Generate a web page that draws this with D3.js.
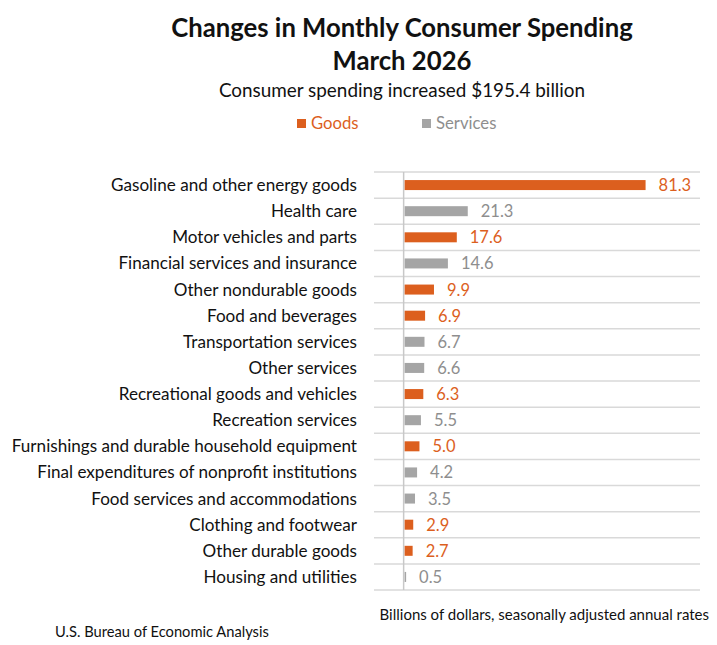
<!DOCTYPE html>
<html>
<head>
<meta charset="utf-8">
<script src="https://cdn.jsdelivr.net/npm/d3@7"></script>
<style>
  body { margin: 0; background: #fff; }
  svg { font-family: Lato, "Open Sans", sans-serif; }
</style>
</head>
<body>
<div id="chart"></div>
<script>
const categories = [
  "Gasoline and other energy goods",
  "Health care",
  "Motor vehicles and parts",
  "Financial services and insurance",
  "Other nondurable goods",
  "Food and beverages",
  "Transportation services",
  "Other services",
  "Recreational goods and vehicles",
  "Recreation services",
  "Furnishings and durable household equipment",
  "Final expenditures of nonprofit institutions",
  "Food services and accommodations",
  "Clothing and footwear",
  "Other durable goods",
  "Housing and utilities"
];
const values = [81.3, 21.3, 17.6, 14.6, 9.9, 6.9, 6.7, 6.6, 6.3, 5.5, 5.0, 4.2, 3.5, 2.9, 2.7, 0.5];
const types  = ["Goods", "Services", "Goods", "Services", "Goods", "Goods", "Services", "Services",
                "Goods", "Services", "Goods", "Services", "Services", "Goods", "Goods", "Services"];
const seriesNames = ["Goods", "Services"];

const W = 717, H = 645;
const ORANGE = "#dc5f1e";
const GRAY_BAR = "#a5a5a5";
const GRAY_TXT = "#8e8e8e";
const color = d3.scaleOrdinal().domain(seriesNames).range([ORANGE, GRAY_BAR]);
const textColor = d3.scaleOrdinal().domain(seriesNames).range([ORANGE, GRAY_TXT]);

const svg = d3.select("#chart").append("svg")
  .attr("width", W).attr("height", H);

// Titles
svg.append("text").attr("x", 402).attr("y", 37)
  .attr("text-anchor", "middle").attr("font-size", 25.7).attr("font-weight", 700)
  .attr("fill", "#111").text("Changes in Monthly Consumer Spending");
svg.append("text").attr("x", 402).attr("y", 70)
  .attr("text-anchor", "middle").attr("font-size", 25.7).attr("font-weight", 700)
  .attr("fill", "#111").text("March 2026");
svg.append("text").attr("x", 402).attr("y", 97)
  .attr("text-anchor", "middle").attr("font-size", 18.9)
  .attr("fill", "#111").text("Consumer spending increased $195.4 billion");

// Legend
const legendX = [297, 422];
const legend = svg.append("g");
seriesNames.forEach((s, i) => {
  legend.append("rect").attr("x", legendX[i]).attr("y", 119)
    .attr("width", 9).attr("height", 9).attr("fill", color(s));
  legend.append("text").attr("x", legendX[i] + 14).attr("y", 129)
    .attr("font-size", 16.7).attr("fill", textColor(s)).text(s);
});

// Scales
const x = d3.scaleLinear().domain([-10, 100]).range([374, 700]);
const y0 = 172, y1 = 590;
const step = (y1 - y0) / categories.length;

// Gridlines between rows
const bounds = d3.range(categories.length + 1).map(i => y0 + i * step);
svg.append("g").selectAll("line").data(bounds).join("line")
  .attr("x1", x(-10)).attr("x2", x(100))
  .attr("y1", d => d).attr("y2", d => d)
  .attr("stroke", "#d9d9d9").attr("stroke-width", 1.5);

// Zero axis
svg.append("line")
  .attr("x1", x(0)).attr("x2", x(0)).attr("y1", y0).attr("y2", y1)
  .attr("stroke", "#c8c8c8").attr("stroke-width", 1.5);

// Bars
const data = categories.map((c, i) => ({ cat: c, value: values[i], type: types[i] }));
const bandY = d => y0 + categories.indexOf(d.cat) * step + step / 2;
const barH = 10;

svg.append("g").selectAll("rect").data(data).join("rect")
  .attr("x", x(0) + 1)
  .attr("y", d => bandY(d) - barH / 2)
  .attr("width", d => Math.max(0, x(d.value) - x(0)))
  .attr("height", barH)
  .attr("fill", d => color(d.type));

// Value labels
svg.append("g").selectAll("text").data(data).join("text")
  .attr("x", d => x(d.value) + 14)
  .attr("y", d => bandY(d) + 6)
  .attr("font-size", 16.5)
  .attr("fill", d => textColor(d.type))
  .text(d => d.value.toFixed(1));

// Category labels
svg.append("g").selectAll("text").data(data).join("text")
  .attr("x", 357)
  .attr("y", d => bandY(d) + 6)
  .attr("text-anchor", "end")
  .attr("font-size", 17.1)
  .attr("fill", "#111")
  .text(d => d.cat);

// Footer
svg.append("text").attr("x", 709).attr("y", 620)
  .attr("text-anchor", "end").attr("font-size", 15)
  .attr("fill", "#111")
  .text("Billions of dollars, seasonally adjusted annual rates");
svg.append("text").attr("x", 55).attr("y", 637)
  .attr("font-size", 14.7).attr("fill", "#111")
  .text("U.S. Bureau of Economic Analysis");
</script>
</body>
</html>
